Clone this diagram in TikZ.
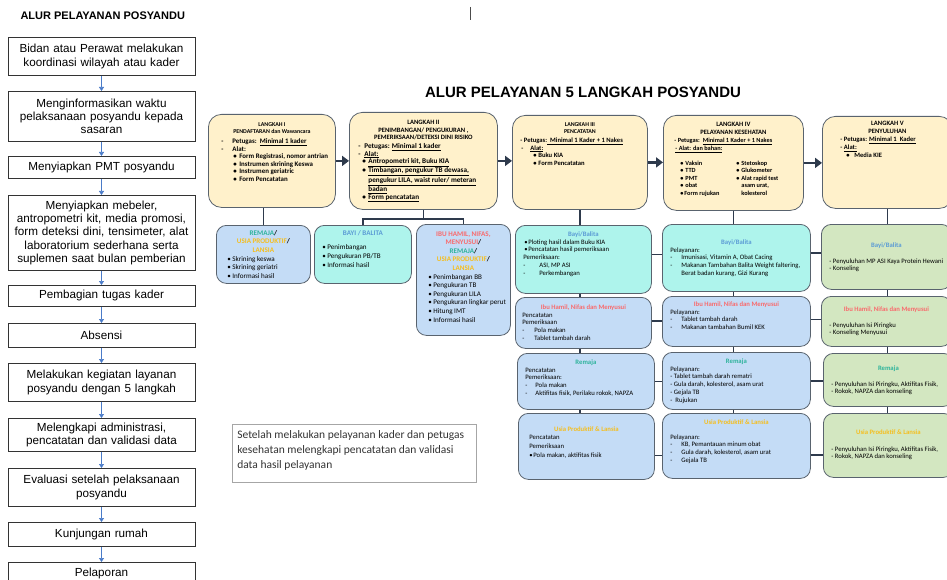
\documentclass[tikz,border=0pt]{standalone}
\usepackage{fontspec}
\setmainfont{Liberation Sans}
\newfontfamily\calib{Carlito}
\usetikzlibrary{arrows.meta,positioning}

\definecolor{edgegray}{HTML}{59636E}
\definecolor{linknavy}{HTML}{2E3A4C}
\definecolor{stepfill}{HTML}{FFF1CB}
\definecolor{groupblue}{HTML}{C4DCF6}
\definecolor{bayiaqua}{HTML}{AEF4EC}
\definecolor{penygreen}{HTML}{D3E7C1}
\definecolor{flowblue}{HTML}{4A7BC8}
\definecolor{tblue}{HTML}{5B9BD5}
\definecolor{tteal}{HTML}{2DB39B}
\definecolor{tgold}{HTML}{F5BE1E}
\definecolor{tpink}{HTML}{F96A6C}

% text set from the top of a box of fixed size
\newcommand{\boxbody}[3]{\begin{minipage}[c][#2pt][t]{#1pt}\raggedright\setlength{\parindent}{0pt}#3\end{minipage}}
% one list line: mark at #1, text and wrapped lines at #2
\newcommand{\itemline}[4]{\par\hangindent=#2pt\hangafter=1\noindent\hspace*{#1pt}\makebox[\dimexpr#2pt-#1pt\relax][l]{#3}#4}
\newcommand{\fsz}[1]{\fontsize{#1}{7.6}\selectfont}

\begin{document}
\begin{tikzpicture}[x=1pt, y=-1pt,
    flowbox/.style={draw=black!80, line width=0.6pt, minimum width=187pt, text width=181pt, align=center, anchor=north, inner sep=3pt, font=\fontsize{11.7}{13.4}\selectfont},
    flowarrow/.style={-{Triangle[length=4pt,width=5pt]}, flowblue, line width=0.7pt},
    stepbox/.style={draw=edgegray, line width=0.8pt, rounded corners=13pt, fill=stepfill, anchor=north west, inner sep=4pt, font=\calib\bfseries\fontsize{6.6}{7.6}\selectfont},
    groupbox/.style={draw=edgegray, line width=0.8pt, rounded corners=10pt, fill=groupblue, anchor=north west, inner sep=4pt, font=\calib\fontsize{6.7}{7.9}\selectfont},
    rowbox/.style={groupbox, font=\calib\fontsize{7.1}{8.6}\selectfont},
    bayibox/.style={groupbox, fill=bayiaqua},
    penybox/.style={groupbox, fill=penygreen},
    steparrow/.style={-{Triangle[length=7pt,width=10pt]}, linknavy, line width=2.6pt},
    link/.style={linknavy, line width=1.6pt}
  ]
  \useasboundingbox (0,0) rectangle (947,580);
  \clip (0,0) rectangle (947,580);

  % left column: general flow
  \node[anchor=west, font=\bfseries\fontsize{11}{13}\selectfont] (lefttitle) at (17,16) {ALUR PELAYANAN POSYANDU};
  \node[flowbox, minimum height=38pt] (f1) at (101.5,37) {Bidan atau Perawat melakukan\\koordinasi wilayah atau kader};
  \node[flowbox, minimum height=50pt] (f2) at (101.5,91) {Menginformasikan waktu\\pelaksanaan posyandu kepada\\sasaran};
  \node[flowbox, minimum height=22pt] (f3) at (101.5,156) {Menyiapkan PMT posyandu};
  \node[flowbox, minimum height=75pt] (f4) at (101.5,195) {Menyiapkan mebeler,\\antropometri kit, media promosi,\\form deteksi dini, tensimeter, alat\\laboratorium sederhana serta\\suplemen saat bulan pemberian};
  \node[flowbox, minimum height=21pt] (f5) at (101.5,285) {Pembagian tugas kader};
  \node[flowbox, minimum height=24pt] (f6) at (101.5,323) {Absensi};
  \node[flowbox, minimum height=38pt] (f7) at (101.5,363) {Melakukan kegiatan layanan\\posyandu dengan 5 langkah};
  \node[flowbox, minimum height=33pt] (f8) at (101.5,418) {Melengkapi administrasi,\\pencatatan dan validasi data};
  \node[flowbox, minimum height=38pt] (f9) at (101.5,468) {Evaluasi setelah pelaksanaan\\posyandu};
  \node[flowbox, minimum height=24pt] (f10) at (101.5,522) {Kunjungan rumah};
  \node[flowbox, minimum height=22pt] (f11) at (101.5,562) {Pelaporan};
  \foreach \a/\b in {f1/f2, f2/f3, f3/f4, f4/f5, f5/f6, f6/f7, f7/f8, f8/f9, f9/f10, f10/f11}
    \draw[flowarrow] (\a) -- (\b);

  % cursor mark
  \draw[black!70, line width=0.6pt] (470,7) -- (470,20);

  % right part: five steps
  \node[font=\bfseries\fontsize{15}{18}\selectfont] (maintitle) at (583,92) {ALUR PELAYANAN 5 LANGKAH POSYANDU};

  \node[stepbox] (l1) at (208,114) {\boxbody{119}{85}{\vspace*{4pt}
    {\centering\fsz{5.9}LANGKAH I\\PENDAFTARAN dan Wawancara\par}\vspace{2pt}
    \fsz{6.9}
    \itemline{9}{20}{-}{Petugas:\ \ \underline{Minimal 1 kader}}
    \itemline{9}{20}{-}{Alat:}
    \itemline{21}{27}{•}{Form Registrasi, nomor antrian}
    \itemline{21}{27}{•}{Instrumen skrining Keswa}
    \itemline{21}{27}{•}{Instrumen geriatric}
    \itemline{21}{27}{•}{Form Pencatatan}}};
  \node[stepbox] (l2) at (349,112) {\boxbody{140}{89}{\vspace*{4pt}
    {\centering LANGKAH II\\PENIMBANGAN/ PENGUKURAN ,\\PEMERIKSAAN/DETEKSI DINI RISIKO\par}\vspace{1pt}
    \fsz{7.2}
    \itemline{5}{11}{-}{Petugas: \underline{Minimal 1 kader}}
    \itemline{5}{11}{-}{\underline{Alat:}}
    \itemline{9}{15}{•}{\underline{Antropometri kit, Buku KIA}}
    \itemline{9}{15}{•}{\underline{Timbangan, pengukur TB dewasa,}\newline\underline{pengukur LILA, waist ruler/ meteran}\newline\underline{badan}}
    \itemline{9}{15}{•}{\underline{Form pencatatan}}}};
  \node[stepbox] (l3) at (512,115) {\boxbody{127}{86}{\vspace*{3pt}
    {\centering\fsz{5.9}LANGKAH III\\PENCATATAN\par}\vspace{1pt}
    \itemline{4}{4}{}{- Petugas:\underline{\ \ Minimal 1 Kader + 1 Nakes}}
    \itemline{5}{14}{-}{\underline{Alat:}}
    \itemline{17}{22}{•}{Buku KIA}
    \itemline{17}{22}{•}{Form Pencatatan}}};
  \node[stepbox] (l4) at (663,115) {\boxbody{132}{87}{\vspace*{3pt}
    {\centering LANGKAH IV\\PELAYANAN KESEHATAN\par}\vspace{1pt}
    \fsz{6.3}
    \itemline{7}{7}{}{- Petugas:\ \ \underline{Minimal 1 Kader + 1 Nakes}}
    \itemline{8}{8}{}{\underline{- Alat: dan bahan:}}
    \par\vspace{7pt}
    \noindent\hspace*{13pt}\begin{minipage}[t]{56pt}\raggedright
      \itemline{0}{5}{•}{Vaksin}
      \itemline{0}{5}{•}{TTD}
      \itemline{0}{5}{•}{PMT}
      \itemline{0}{5}{•}{obat}
      \itemline{0}{4}{•}{Form rujukan}
    \end{minipage}\begin{minipage}[t]{60pt}\raggedright
      \itemline{0}{5}{•}{Stetoskop}
      \itemline{0}{5}{•}{Glukometer}
      \itemline{0}{5}{•}{Alat rapid test\newline asam urat,\newline kolesterol}
    \end{minipage}}};
  \node[stepbox] (l5) at (822,116) {\boxbody{122}{84}{\vspace*{1pt}
    {\centering LANGKAH V\\PENYULUHAN\par}\vspace{1pt}
    \itemline{14}{14}{}{- Petugas: \underline{Minimal 1\ \ Kader}}
    \itemline{14}{14}{}{- \underline{Alat:}}
    \itemline{20}{28}{•}{Media KIE}}};
  \foreach \a/\b in {l1/l2, l2/l3, l3/l4, l4/l5}
    \draw[steparrow] (\a.east) -- (\a.east -| \b.west);

  % groups under step I and step II
  \node[rowbox] (rm) at (216,225) {\boxbody{86}{50}{\vspace*{1pt}
    {\centering\bfseries{\color{tteal}REMAJA}/\\{\color{tgold}USIA PRODUKTIF}/\\{\color{tgold}LANSIA}\par}
    \itemline{7}{12}{•}{Skrining keswa}
    \itemline{7}{12}{•}{Skrining geriatri}
    \itemline{7}{12}{•}{Informasi hasil}}};
  \node[rowbox, fill=bayiaqua] (by) at (314,225) {\boxbody{89}{50}{\vspace*{1pt}
    {\centering\bfseries\color{tblue}BAYI / BALITA\par}\vspace{6pt}
    \itemline{4}{9}{•}{Penimbangan}
    \itemline{4}{9}{•}{Pengukuran PB/TB}
    \itemline{4}{9}{•}{Informasi hasil}}};
  \node[rowbox] (ib) at (416,224) {\boxbody{86}{103}{\vspace*{3pt}
    {\centering\bfseries{\color{tpink}IBU HAMIL, NIFAS,}\\{\color{tpink}MENYUSUI}/\\{\color{tteal}REMAJA}/\\{\color{tgold}USIA PRODUKTIF}/\\{\color{tgold}LANSIA}\par}
    \itemline{8}{13}{•}{Penimbangan BB}
    \itemline{8}{13}{•}{Pengukuran TB}
    \itemline{8}{13}{•}{Pengukuran LILA}
    \itemline{8}{13}{•}{Pengukuran lingkar perut}
    \itemline{8}{13}{•}{Hitung IMT}
    \itemline{8}{13}{•}{Informasi hasil}}};

  % groups under step III
  \node[bayibox] (b3) at (515,225) {\boxbody{128}{60}{\vspace*{2pt}
    {\centering\bfseries\color{tblue}Bayi/Balita\par}
    \itemline{5}{9}{•}{Ploting hasil dalam Buku KIA}
    \itemline{5}{9}{•}{Pencatatan hasil pemeriksaan}
    \itemline{4}{4}{}{Pemeriksaan:}
    \itemline{4}{20}{-}{ASI, MP ASI}
    \itemline{4}{20}{-}{Perkembangan}}};
  \node[groupbox] (i3) at (515,297) {\boxbody{128}{43}{\vspace*{3pt}
    {\centering\bfseries\color{tpink}Ibu Hamil, Nifas dan Menyusui\par}
    \itemline{3}{3}{}{Pencatatan}
    \itemline{3}{3}{}{Pemeriksaan}
    \itemline{3}{15}{-}{Pola makan}
    \itemline{3}{15}{-}{Tablet tambah darah}}};
  \node[groupbox] (r3) at (517,353) {\boxbody{129}{48}{\vspace*{2pt}
    {\centering\bfseries\color{tteal}Remaja\par}
    \itemline{4}{4}{}{Pencatatan}
    \itemline{4}{4}{}{Pemeriksaan:}
    \itemline{4}{14}{-}{Pola makan}
    \itemline{4}{14}{-}{Aktifitas fisik, Perilaku rokok, NAPZA}}};
  \node[groupbox, font=\calib\fontsize{6.7}{8.7}\selectfont] (u3) at (518,413) {\boxbody{128}{58}{\vspace*{9pt}
    {\centering\bfseries\color{tgold}Usia Produktif \& Lansia\par}
    \itemline{7}{7}{}{Pencatatan}
    \itemline{7}{7}{}{Pemeriksaan}
    \itemline{7}{11}{•}{Pola makan, aktifitas fisik}}};

  % groups under step IV
  \node[bayibox] (b4) at (662,224) {\boxbody{140}{59}{\vspace*{11pt}
    {\centering\bfseries\color{tblue}Bayi/Balita\par}
    \itemline{4}{4}{}{Pelayanan:}
    \itemline{4}{15}{-}{Imunisasi, Vitamin A, Obat Cacing}
    \itemline{4}{15}{-}{Makanan Tambahan Balita Weight faltering,\newline Berat badan kurang, Gizi Kurang}}};
  \node[groupbox] (i4) at (662,296) {\boxbody{140}{42}{\vspace*{1pt}
    {\centering\bfseries\color{tpink}Ibu Hamil, Nifas dan Menyusui\par}
    \itemline{4}{4}{}{Pelayanan:}
    \itemline{4}{15}{-}{Tablet tambah darah}
    \itemline{4}{15}{-}{Makanan tambahan Bumil KEK}}};
  \node[groupbox] (r4) at (662,352) {\boxbody{140}{49}{\vspace*{2pt}
    {\centering\bfseries\color{tteal}Remaja\par}
    \itemline{4}{4}{}{Pelayanan:}
    \itemline{4}{4}{}{- Tablet tambah darah rematri}
    \itemline{4}{4}{}{- Gula darah, kolesterol, asam urat}
    \itemline{4}{4}{}{- Gejala TB}
    \itemline{4}{4}{}{-\ \ Rujukan}}};
  \node[groupbox] (u4) at (662,413) {\boxbody{140}{57}{\vspace*{2pt}
    {\centering\bfseries\color{tgold}Usia Produktif \& Lansia\par}\vspace{7pt}
    \itemline{4}{4}{}{Pelayanan:}
    \itemline{4}{15}{-}{KB, Pemantauan minum obat}
    \itemline{4}{15}{-}{Gula darah, kolesterol, asam urat}
    \itemline{4}{15}{-}{Gejala TB}}};

  % groups under step V
  \node[penybox] (b5) at (821,224) {\boxbody{122}{57}{\vspace*{14pt}
    {\centering\bfseries\color{tblue}Bayi/Balita\par}\vspace{8pt}
    \itemline{4}{4}{}{- Penyuluhan MP ASI Kaya Protein Hewani}
    \itemline{4}{4}{}{- Konseling}}};
  \node[penybox] (i5) at (821,296) {\boxbody{122}{42}{\vspace*{6pt}
    {\centering\bfseries\color{tpink}Ibu Hamil, Nifas dan Menyusui\par}\vspace{8pt}
    \itemline{4}{4}{}{- Penyuluhan Isi Piringku}
    \itemline{4}{4}{}{- Konseling Menyusui}}};
  \node[penybox] (r5) at (823,353) {\boxbody{122}{45}{\vspace*{8pt}
    {\centering\bfseries\color{tteal}Remaja\par}\vspace{8pt}
    \itemline{4}{4}{}{- Penyuluhan Isi Piringku, Aktifitas Fisik,}
    \itemline{4}{4}{}{- Rokok, NAPZA dan konseling}}};
  \node[penybox] (u5) at (823,413) {\boxbody{122}{56}{\vspace*{12pt}
    {\centering\bfseries\color{tgold}Usia Produktif \& Lansia\par}\vspace{9pt}
    \itemline{4}{4}{}{- Penyuluhan Isi Piringku, Aktifitas Fisik,}
    \itemline{4}{4}{}{- Rokok, NAPZA dan konseling}}};

  % note
  \node[draw=black!35, line width=0.6pt, anchor=north west, inner sep=5pt, text=black!80, font=\calib\fontsize{11.5}{15}\selectfont] (note) at (232,424) {\boxbody{234}{48}{\vspace*{1pt}
    Setelah melakukan pelayanan kader dan petugas\\kesehatan melengkapi pencatatan dan validasi\\data hasil pelayanan}};

  % connectors from steps to groups
  \draw[link] (l1.south -| rm.north) -- (rm.north);
  \coordinate (fork2) at ([yshift=-9pt]l2.south);
  \draw[link] (l2.south) -- (fork2);
  \draw[link] (by.north) |- (fork2) -| (ib.north);
  \foreach \s/\a/\b/\c/\d in {l3/b3/i3/r3/u3, l4/b4/i4/r4/u4, l5/b5/i5/r5/u5} {
    \draw[link] (\s.south) -- (\s.south |- \a.north);
    \draw[link] (\a.south -| \s.south) -- (\b.north -| \s.south);
    \draw[link] (\b.south -| \s.south) -- (\c.north -| \s.south);
    \draw[link] (\c.south -| \s.south) -- (\d.north -| \s.south);
  }
  \foreach \a/\b/\h in {b3/b4/5, i3/i4/2, r3/r4/0, u3/u4/-9, b4/b5/5, i4/i5/2, r4/r5/0, u4/u5/-9} {
    \coordinate (p) at ([yshift=\h pt]\a.east);
    \draw[link] (p) -- (p -| \b.west);
  }
\end{tikzpicture}
\end{document}
